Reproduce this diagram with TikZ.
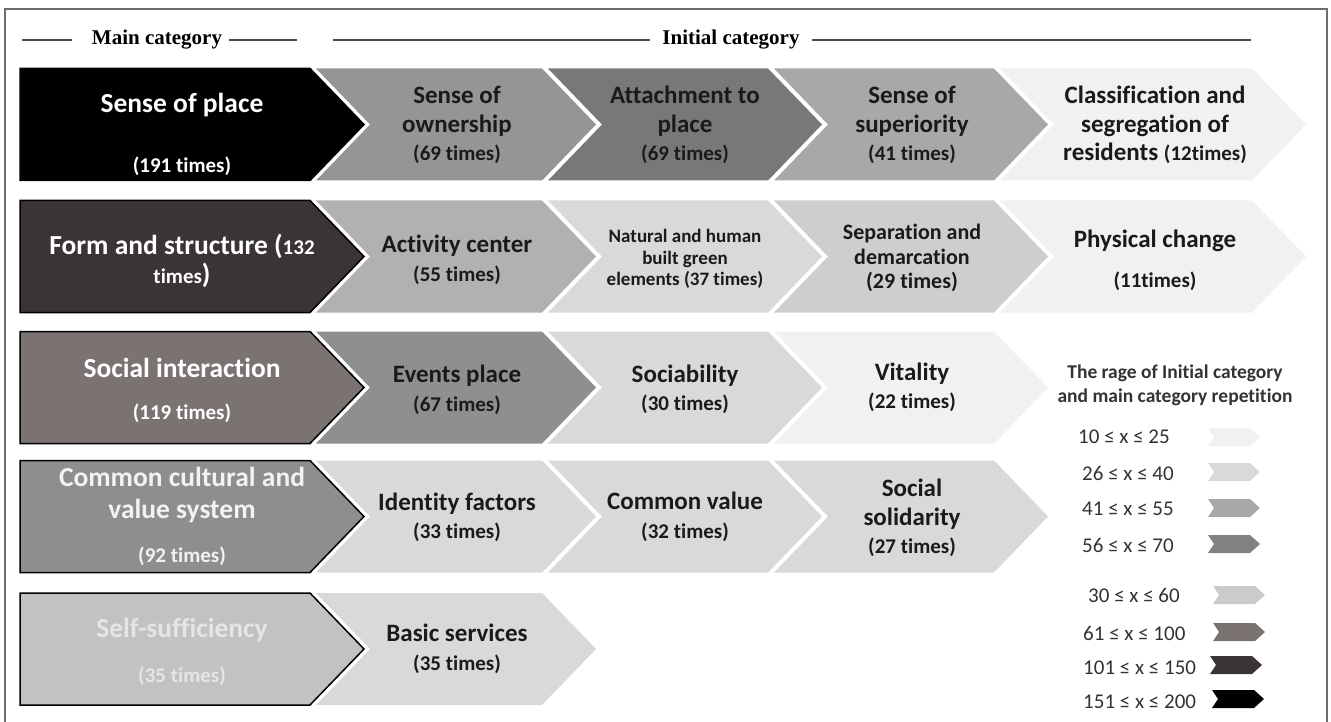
\documentclass[tikz,border=0pt]{standalone}
\usepackage{fontspec}
\setmainfont{Carlito}[Ligatures=NoCommon]
\newfontfamily\hdrfont{Liberation Serif}
\usepackage{xcolor}
\usepackage{tikz}
\usetikzlibrary{positioning,calc}

\definecolor{mainA}{HTML}{000000}
\definecolor{mainB}{HTML}{3A3434}
\definecolor{mainC}{HTML}{7A7372}
\definecolor{mainD}{HTML}{908D8D}
\definecolor{mainE}{HTML}{C2C2C2}
\definecolor{lvlA}{HTML}{F1F1F1}
\definecolor{lvlB}{HTML}{D9D9D9}
\definecolor{lvlC}{HTML}{A8A8A8}
\definecolor{lvlD}{HTML}{828282}
\definecolor{txtdark}{HTML}{1A1A1A}
\definecolor{txtleg}{HTML}{333333}
\definecolor{framegray}{HTML}{6E6E6E}

\newcommand{\mtitle}{\fontsize{27.5}{32}\selectfont}
\newcommand{\mcount}{\fontsize{21}{32}\selectfont}
\newcommand{\ctitle}{\fontsize{25}{28.5}\selectfont}
\newcommand{\ccount}{\fontsize{21}{28.5}\selectfont}

% main box: fill, centre y
\newcommand{\mainbox}[2]{%
  \filldraw[draw=black, line width=1.5pt, fill=#1]
    (20,#2-56) -- (310,#2-56) -- (364,#2) -- (310,#2+56) -- (20,#2+56) -- cycle;}
% chevron: fill, left x, flat right x, centre y
\newcommand{\chev}[4]{%
  \fill[#1] (#2,#4-56) -- (#3,#4-56) -- (#3+54,#4) -- (#3,#4+56) -- (#2,#4+56) -- (#2+54,#4) -- cycle;}
% small legend chevron: fill, left x, centre y
\newcommand{\legchev}[3]{%
  \fill[#1] (#2,#3-9) -- (#2+42,#3-9) -- (#2+52,#3) -- (#2+42,#3+9) -- (#2,#3+9) -- (#2+6,#3) -- cycle;}

\begin{document}
\begin{tikzpicture}[x=1pt, y=-1pt,
    hdr/.style={font=\hdrfont\bfseries\fontsize{21}{24}\selectfont, inner sep=0pt},
    hline/.style={draw=black!70, line width=1.2pt},
    maintxt/.style={align=center, text=white, font=\bfseries\mtitle, inner sep=0pt},
    chtxt/.style={align=center, text=txtdark, font=\bfseries\ctitle, inner sep=0pt},
    legtxt/.style={text=txtleg, font=\fontsize{21}{24}\selectfont, anchor=west, inner sep=0pt}]
    \useasboundingbox (0,0) rectangle (1331,722);
    \fill[white] (0,0) rectangle (1331,722);
    \draw[framegray, line width=1.6pt] (5,722) -- (5,9) -- (1327,9) -- (1327,722);

    % header
    \node[hdr] (maincat) at (157,40) {Main category};
    \node[hdr] (initcat) at (731,40) {Initial category};
    \draw[hline] (22,40) -- ([xshift=-20pt]maincat.west);
    \draw[hline] ([xshift=7pt]maincat.east) -- (297,40);
    \draw[hline] (333,40) -- ([xshift=-12pt]initcat.west);
    \draw[hline] ([xshift=12pt]initcat.east) -- (1251,40);

    % row 1
    \mainbox{mainA}{124.5}
    \chev{lvlD!85!white}{316}{542}{124.5}
    \chev{lvlD!92!black}{548}{768}{124.5}
    \chev{lvlC}{774}{994}{124.5}
    \chev{lvlA}{1000}{1252}{124.5}
    \node[maintxt] (place) at (182,134) {Sense of place\\[28pt]\mcount (191 times)};
    \node[chtxt] (owner) at (457,125) {Sense of\\ ownership\\ \ccount (69 times)};
    \node[chtxt] (attach) at (685,125) {Attachment to\\ place\\ \ccount (69 times)};
    \node[chtxt] (superior) at (912,125) {Sense of\\ superiority\\ \ccount (41 times)};
    \node[chtxt] (classif) at (1155,125) {Classification and\\ segregation of\\ residents \ccount(12times)};

    % row 2
    \mainbox{mainB}{256.5}
    \chev{lvlC!90!white}{316}{542}{256.5}
    \chev{lvlB}{548}{768}{256.5}
    \chev{lvlB!95!black}{774}{994}{256.5}
    \chev{lvlA}{1000}{1252}{256.5}
    \node[maintxt] (form) at (182,261) {Form and structure (\mcount 132\\[-3pt] \mcount times\mtitle )};
    \node[chtxt] (activity) at (457,260) {Activity center\\ \ccount (55 times)};
    \node[chtxt, font=\bfseries\fontsize{19}{21.5}\selectfont] (natural) at (685,259) {Natural and human\\ built green\\ elements (37 times)};
    \node[chtxt, font=\bfseries\fontsize{22}{24.5}\selectfont] (separ) at (912,258) {Separation and\\ demarcation\\ (29 times)};
    \node[chtxt] (physical) at (1155,260.5) {Physical change\\[11.5pt] \ccount (11times)};

    % row 3
    \mainbox{mainC}{387.5}
    \chev{lvlD!90!white}{316}{542}{387.5}
    \chev{lvlB}{548}{768}{387.5}
    \chev{lvlA}{774}{994}{387.5}
    \node[maintxt] (social) at (182,390) {Social interaction\\[10pt]\mcount (119 times)};
    \node[chtxt] (events) at (457,390) {Events place\\ \ccount (67 times)};
    \node[chtxt] (sociab) at (685,389.5) {Sociability\\ \ccount (30 times)};
    \node[chtxt] (vital) at (912,387.5) {Vitality\\ \ccount (22 times)};

    % row 4
    \mainbox{mainD}{516.5}
    \chev{lvlB}{316}{542}{516.5}
    \chev{lvlB}{548}{768}{516.5}
    \chev{lvlB}{774}{994}{516.5}
    \node[maintxt, text=white!95!black] (culture) at (182,516) {Common cultural and\\ value system\\[12pt]\mcount (92 times)};
    \node[chtxt] (identity) at (457,517.5) {Identity factors\\ \ccount (33 times)};
    \node[chtxt] (comval) at (685,517) {Common value\\ \ccount (32 times)};
    \node[chtxt] (solid) at (912,518) {Social\\ solidarity\\ \ccount (27 times)};

    % row 5
    \mainbox{mainE}{649}
    \chev{lvlB}{316}{542}{649}
    \node[maintxt, text=white!90!black] (selfsuf) at (182,651.5) {Self-sufficiency\\[13pt]\mcount (35 times)};
    \node[chtxt] (basic) at (457,649) {Basic services\\ \ccount (35 times)};

    % legend
    \node[align=center, text=txtleg, font=\bfseries\fontsize{19.5}{24}\selectfont, inner sep=0pt] (legtitle) at (1175,385) {The rage of Initial category\\ and main category repetition};
    \node[legtxt] (lgA) at (1078,437) {10 ≤ x ≤ 25};
    \node[legtxt] (lgB) at (1082,473) {26 ≤ x ≤ 40};
    \node[legtxt] (lgC) at (1082,509) {41 ≤ x ≤ 55};
    \node[legtxt] (lgD) at (1082,545) {56 ≤ x ≤ 70};
    \node[legtxt] (lgE) at (1088,595) {30 ≤ x ≤ 60};
    \node[legtxt] (lgF) at (1083,633) {61 ≤ x ≤ 100};
    \node[legtxt] (lgG) at (1083,668) {101 ≤ x ≤ 150};
    \node[legtxt] (lgH) at (1083,702) {151 ≤ x ≤ 200};
    \legchev{lvlA}{1208}{437}
    \legchev{lvlB}{1208}{472}
    \legchev{lvlC}{1208}{508}
    \legchev{lvlD}{1208}{544}
    \legchev{mainE!85!white}{1213}{595}
    \legchev{mainC}{1213}{632}
    \legchev{mainB}{1210}{665}
    \legchev{mainA}{1212}{699}
\end{tikzpicture}
\end{document}
